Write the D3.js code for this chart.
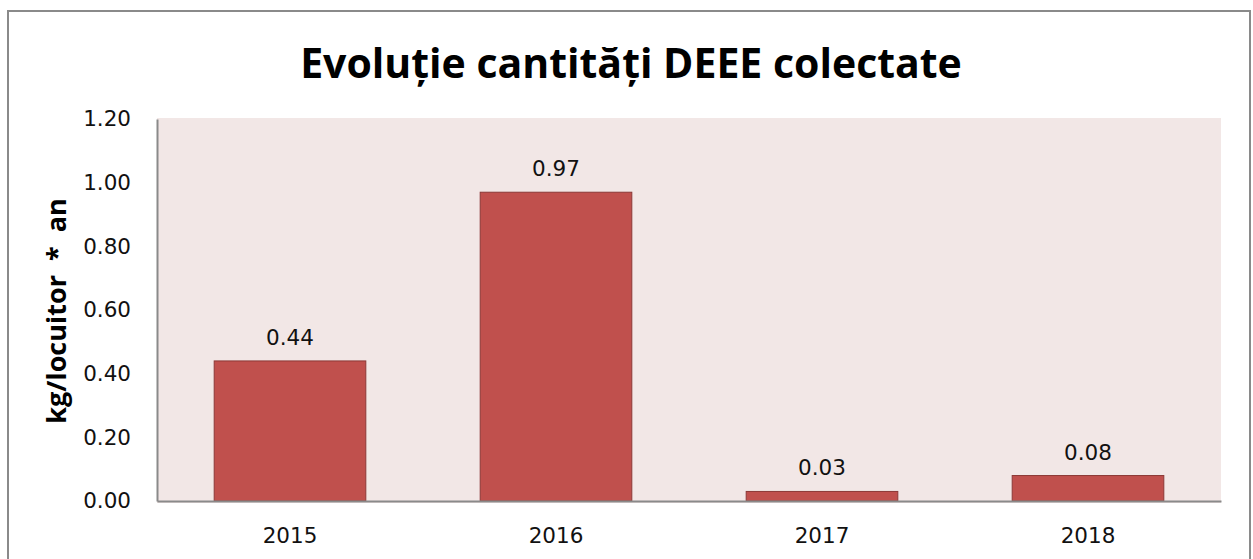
<!DOCTYPE html>
<html>
<head>
<meta charset="utf-8">
<script src="https://cdn.jsdelivr.net/npm/d3@7"></script>
<style>
  body { margin: 0; background: #fff; }
</style>
</head>
<body>
<div id="chart"></div>
<script>
// values
const years = ["2015", "2016", "2017", "2018"];
const amounts = [0.44, 0.97, 0.03, 0.08];
const yTicks = [0, 0.2, 0.4, 0.6, 0.8, 1.0, 1.2];
const title = "Evoluție cantități DEEE colectate";
const yLabel = "kg/locuitor  *  an";

const pageWidth = 1253;
const pageHeight = 559;
const plot = { left: 157, right: 1221, top: 119, bottom: 501 };
const numFont = "'DejaVu Sans', sans-serif";
const boldFont = "'Open Sans', 'Liberation Sans', sans-serif";

const svg = d3.select("#chart")
    .append("svg")
    .attr("width", pageWidth)
    .attr("height", pageHeight);

// outer frame
svg.append("rect")
    .attr("x", 8).attr("y", 11)
    .attr("width", 1242).attr("height", 580)
    .attr("fill", "#fff")
    .attr("stroke", "#8a8a8a")
    .attr("stroke-width", 2);

svg.append("text")
    .attr("x", 631).attr("y", 78)
    .attr("text-anchor", "middle")
    .attr("font-family", boldFont)
    .attr("font-size", 41)
    .attr("font-weight", "bold")
    .text(title);

// plot background
svg.append("rect")
    .attr("x", plot.left).attr("y", plot.top - 1)
    .attr("width", plot.right - plot.left)
    .attr("height", plot.bottom - plot.top + 3)
    .attr("fill", "#f2e7e6");

const x = d3.scaleBand()
    .domain(years)
    .range([plot.left, plot.right])
    .paddingInner(0.43)
    .paddingOuter(0.215);

const y = d3.scaleLinear()
    .domain([0, 1.2])
    .range([plot.bottom, plot.top]);

const data = years.map((yr, i) => ({ year: yr, amount: amounts[i] }));

svg.selectAll(".bar")
    .data(data)
    .enter().append("rect")
    .attr("class", "bar")
    .attr("x", d => x(d.year))
    .attr("y", d => y(d.amount))
    .attr("width", x.bandwidth())
    .attr("height", d => y(0) - y(d.amount))
    .attr("fill", "#c0504d")
    .attr("stroke", "#8c3836")
    .attr("stroke-width", 1);

svg.selectAll(".val")
    .data(data)
    .enter().append("text")
    .attr("class", "val")
    .attr("x", d => x(d.year) + x.bandwidth() / 2)
    .attr("y", d => y(d.amount) - 16)
    .attr("text-anchor", "middle")
    .attr("font-family", numFont)
    .attr("font-size", 21.5)
    .attr("fill", "#111")
    .text(d => d.amount.toFixed(2));

// axes
const yAxis = svg.append("g")
    .attr("transform", "translate(" + plot.left + ",0)")
    .call(d3.axisLeft(y).tickValues(yTicks).tickFormat(d3.format(".2f")).tickSize(0).tickPadding(26));
yAxis.select(".domain").attr("stroke", "#8a8a8a").attr("stroke-width", 2);
yAxis.selectAll("text").attr("font-size", 21.5).attr("fill", "#111")
    .attr("font-family", numFont);

const xAxis = svg.append("g")
    .attr("transform", "translate(0," + plot.bottom + ")")
    .call(d3.axisBottom(x).tickSize(0).tickPadding(27));
xAxis.select(".domain").attr("stroke", "#8a8a8a").attr("stroke-width", 2);
xAxis.selectAll("text").attr("font-size", 21.5).attr("fill", "#111")
    .attr("font-family", numFont);

svg.append("text")
    .attr("transform", "translate(66,311) rotate(-90)")
    .attr("text-anchor", "middle")
    .attr("font-family", boldFont)
    .attr("font-size", 27)
    .attr("font-weight", "bold")
    .style("white-space", "pre")
    .text(yLabel);
</script>
</body>
</html>
